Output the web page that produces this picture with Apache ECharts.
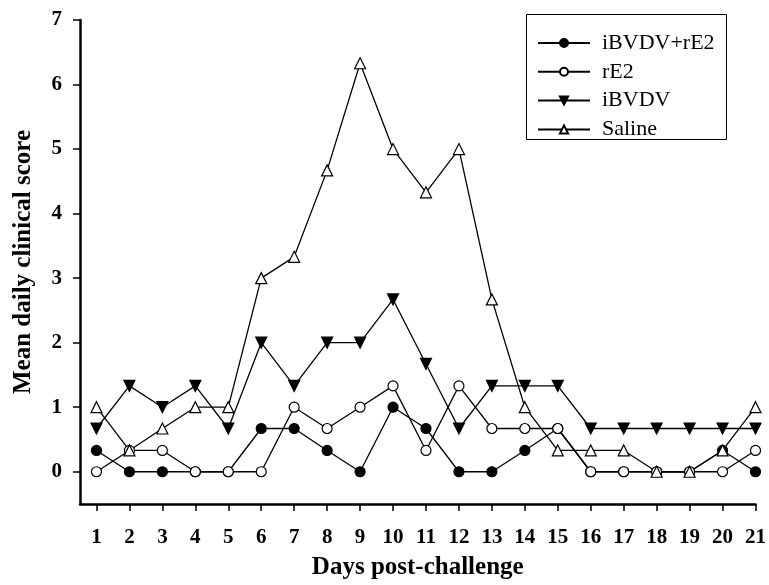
<!DOCTYPE html>
<html>
<head>
<meta charset="utf-8">
<script src="https://cdn.jsdelivr.net/npm/echarts@6/dist/echarts.min.js"></script>
<style>html,body{margin:0;padding:0;background:#fff;}#c{width:769px;height:585px;}</style>
</head>
<body>
<div id="c"></div>
<script>
var days = [1,2,3,4,5,6,7,8,9,10,11,12,13,14,15,16,17,18,19,20,21];
var yTicks = [0,1,2,3,4,5,6,7];
var seriesNames = ['iBVDV+rE2','rE2','iBVDV','Saline'];
var ibvdvRe2 = [0.33,0,0,0,0,0.67,0.67,0.33,0,1,0.67,0,0,0.33,0.67,0,0,0,0,0.33,0];
var re2 = [0,0.33,0.33,0,0,0,1,0.67,1,1.33,0.33,1.33,0.67,0.67,0.67,0,0,0,0,0,0.33];
var ibvdv = [0.67,1.33,1,1.33,0.67,2,1.33,2,2,2.67,1.67,0.67,1.33,1.33,1.33,0.67,0.67,0.67,0.67,0.67,0.67];
var saline = [1,0.33,0.67,1,1,3,3.33,4.67,6.33,5,4.33,5,2.67,1,0.33,0.33,0.33,0,0,0.33,1];

function pairs(arr){ return days.map(function(d,i){ return [d, arr[i]]; }); }

var font = 'Liberation Serif';
var chart = echarts.init(document.getElementById('c'), null, {renderer:'canvas'});
function mk(name, data, symbol, size, rotate, fill){
  return {
    name: name, type: 'line', data: pairs(data),
    symbol: symbol, symbolSize: size, symbolRotate: rotate,
    showAllSymbol: true,
    lineStyle: {color:'#000', width:1.3},
    itemStyle: {color: fill, borderColor:'#000', borderWidth: 1.2},
    emphasis: {disabled:true},
    animation: false
  };
}
chart.setOption({
  backgroundColor: '#fff',
  animation: false,
  grid: {left: 80, right: 12, top: 20, bottom: 77, containLabel: false},
  legend: {
    orient: 'vertical', left: 537, top: 32, padding: 0,
    itemWidth: 52, itemHeight: 10, itemGap: 6.8,
    textStyle: {fontFamily: font, fontSize: 22, color:'#000', lineHeight: 20, padding: [0,0,0,7]},
    data: seriesNames,
    selectedMode: false
  },
  graphic: [{
    type: 'rect', left: 524, top: 12,
    shape: {width: 200, height: 125},
    style: {fill: 'none', stroke: '#000', lineWidth: 1}
  }],
  xAxis: {
    type: 'value', min: 0.5, max: 21,
    name: 'Days post-challenge', nameLocation: 'middle', nameGap: 51,
    nameTextStyle: {fontFamily: font, fontSize: 25, fontWeight: 'bold', color:'#000'},
    axisLine: {show: true, onZero: false, lineStyle: {color:'#000', width: 2.5}},
    axisTick: {show: true, length: 7, lineStyle: {color:'#000', width: 1.5}, customValues: days},
    axisLabel: {fontFamily: font, fontSize: 21, fontWeight: 'bold', color:'#000', margin: 23, customValues: days},
    splitLine: {show: false}
  },
  yAxis: {
    type: 'value', min: -0.5, max: 7,
    name: 'Mean daily clinical score', nameLocation: 'middle', nameGap: 44,
    nameTextStyle: {fontFamily: font, fontSize: 25, fontWeight: 'bold', color:'#000'},
    axisLine: {show: true, onZero: false, lineStyle: {color:'#000', width: 2.5}},
    axisTick: {show: true, length: 7, lineStyle: {color:'#000', width: 1.5}, customValues: yTicks},
    axisLabel: {fontFamily: font, fontSize: 21, fontWeight: 'bold', color:'#000', margin: 18, customValues: yTicks},
    splitLine: {show: false}
  },
  series: [
    mk(seriesNames[0], ibvdvRe2, 'circle', 10, 0, '#000'),
    mk(seriesNames[1], re2, 'circle', 10, 0, '#fff'),
    mk(seriesNames[2], ibvdv, 'triangle', 11, 180, '#000'),
    mk(seriesNames[3], saline, 'triangle', 11, 0, '#fff')
  ]
});
</script>
</body>
</html>
